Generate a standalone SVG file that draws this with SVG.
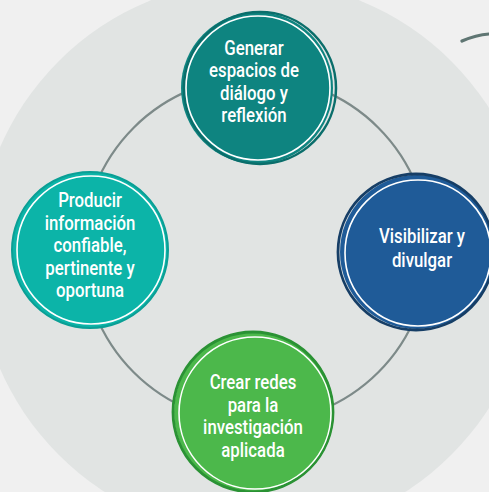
<svg xmlns="http://www.w3.org/2000/svg" width="489" height="492" viewBox="0 0 489 492">
<style>
.t{font-family:Roboto,"DejaVu Sans Condensed",sans-serif;font-size:20px;fill:#ffffff;text-anchor:middle;font-weight:500}
.w{fill:none;stroke:#ffffff;stroke-width:1.6}
.c{fill:none;stroke:#7d8a89;stroke-width:2.2}
</style>
<rect width="489" height="492" fill="#f0f0f0"/>
<circle cx="255" cy="258" r="278" fill="#e1e4e3"/>
<path d="M462,41 Q476,35 489,34" fill="none" stroke="#5f7673" stroke-width="3.2" stroke-linecap="round"/>
<g id="connectors">
<circle class="c" cx="256" cy="250" r="173"/>
</g>
<g id="node-top">
<circle cx="257" cy="88" r="76" fill="#0e8480"/>
<circle cx="260" cy="88" r="76" fill="none" stroke="#0a6e6b" stroke-width="2.5"/>
<circle class="w" cx="258" cy="88" r="72"/>
<text class="t" transform="translate(254,0) scale(0.84,1)"><tspan x="0" y="55">Generar</tspan><tspan x="0" y="77">espacios de</tspan><tspan x="0" y="100">diálogo y</tspan><tspan x="0" y="122">reflexión</tspan></text>
</g>
<g id="node-right">
<circle cx="417" cy="252" r="77" fill="#1f5b98"/>
<circle cx="416" cy="252" r="78" fill="none" stroke="#163e66" stroke-width="2.8"/>
<circle class="w" cx="418" cy="253" r="73"/>
<text class="t" transform="translate(422,0) scale(0.84,1)"><tspan x="0" y="243">Visibilizar y</tspan><tspan x="0" y="267">divulgar</tspan></text>
</g>
<g id="node-left">
<circle cx="90" cy="250" r="78" fill="#0cb4a8"/>
<circle cx="90" cy="250" r="78" fill="none" stroke="#0a9f95" stroke-width="2"/>
<circle class="w" cx="91" cy="250" r="74"/>
<text class="t" transform="translate(90,0) scale(0.84,1)"><tspan x="0" y="207">Producir</tspan><tspan x="0" y="230">información</tspan><tspan x="0" y="252">confiable,</tspan><tspan x="0" y="275">pertinente y</tspan><tspan x="0" y="297">oportuna</tspan></text>
</g>
<g id="node-bottom">
<circle cx="254" cy="412" r="80" fill="#4cb84b"/>
<circle cx="253" cy="412" r="80" fill="none" stroke="#2a9234" stroke-width="2.8"/>
<circle class="w" cx="255" cy="413" r="76"/>
<text class="t" transform="translate(253,0) scale(0.84,1)"><tspan x="0" y="389">Crear redes</tspan><tspan x="0" y="412">para la</tspan><tspan x="0" y="434">investigación</tspan><tspan x="0" y="457">aplicada</tspan></text>
</g>
</svg>
